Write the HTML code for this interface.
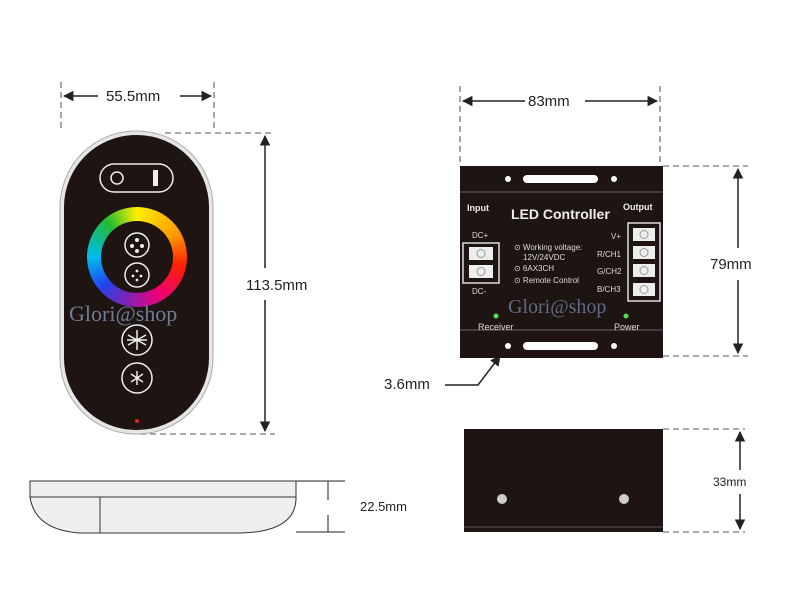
<!DOCTYPE html>
<html><head><style>
body{margin:0;width:800px;height:615px;background:#fff;position:relative;overflow:hidden;font-family:"Liberation Sans",sans-serif}
svg{position:absolute;left:0;top:0}
.ring{position:absolute;left:87px;top:207px;width:100px;height:100px;border-radius:50%;background:conic-gradient(from 0deg,#ffee00,#ff9900 60deg,#ff2200 100deg,#ee0077 150deg,#8a1fb0 190deg,#2244ee 230deg,#00bbee 270deg,#22bb33 320deg,#ffee00)}
.ring:after{content:"";position:absolute;left:14px;top:14px;width:72px;height:72px;border-radius:50%;background:#1e1412}
</style></head><body>
<svg width="800" height="615" viewBox="0 0 800 615" font-family="Liberation Sans, sans-serif">
<defs><marker id="a" viewBox="0 0 10 10" refX="9" refY="5" markerWidth="7" markerHeight="7" orient="auto-start-reverse"><path d="M0,0L10,5L0,10z" fill="#222"/></marker></defs>
<g stroke="#777" stroke-width="1.3" stroke-dasharray="6,4" fill="none">
<path d="M61,82V130M214,82V130M165,133H275M140,434H275M460,86V166M660,86V166M663,166H748M663,356H748M663,429H745M663,532H745"/>
</g>
<g stroke="#222" stroke-width="1.5" fill="none">
<path d="M64,96H98M180,96H211" marker-start="url(#a)" marker-end="url(#a)"/>
<path d="M265,136V268M265,300V431" marker-start="url(#a)" marker-end="url(#a)"/>
<path d="M463,101H525M585,101H657" marker-start="url(#a)" marker-end="url(#a)"/>
<path d="M738,169V248M738,280V353" marker-start="url(#a)" marker-end="url(#a)"/>
<path d="M740,432V470M740,494V529" marker-start="url(#a)" marker-end="url(#a)"/>
<path d="M445,385H478L500,356" marker-end="url(#a)"/>
<path d="M296,481H345M296,532H345M328,481V500M328,515V532" stroke-width="1"/>
</g>
<g font-size="15" fill="#222">
<text x="106" y="101">55.5mm</text>
<text x="246" y="290">113.5mm</text>
<text x="528" y="106">83mm</text>
<text x="710" y="269">79mm</text>
<text x="384" y="389">3.6mm</text>
<text x="360" y="511" font-size="13">22.5mm</text>
<text x="713" y="486" font-size="12">33mm</text>
</g>
<rect x="60" y="131" width="153" height="303" rx="76" fill="#e6e6e6" stroke="#aaa"/>
<rect x="64" y="135" width="145" height="295" rx="72" fill="#1e1412"/>
<rect x="100" y="164" width="73" height="28" rx="14" fill="none" stroke="#eee" stroke-width="1.5"/>
<circle cx="117" cy="178" r="6" fill="none" stroke="#eee" stroke-width="1.5"/>
<rect x="153" y="170" width="5" height="16" fill="#eee"/>
<circle cx="137" cy="421" r="2" fill="#d22"/>
<path d="M30,481H296V497H30Z" fill="#eee" stroke="#333"/>
<path d="M30,497H296V500Q294,532 240,533H80Q35,530 30,497Z" fill="#eee" stroke="#333"/>
<path d="M100,497V533" stroke="#333"/>
<rect x="460" y="166" width="203" height="192" fill="#1e1412"/>
<path d="M460,192H663M460,330H663" stroke="#666"/>
<rect x="523" y="175" width="75" height="8" rx="4" fill="#fff"/>
<circle cx="508" cy="179" r="3" fill="#fff"/><circle cx="614" cy="179" r="3" fill="#fff"/>
<rect x="523" y="342" width="75" height="8" rx="4" fill="#fff"/>
<circle cx="508" cy="346" r="3" fill="#fff"/><circle cx="614" cy="346" r="3" fill="#fff"/>
<rect x="463" y="243" width="36" height="40" fill="none" stroke="#ddd" stroke-width="1.5"/>
<rect x="469" y="247" width="24" height="13" fill="#eee"/><rect x="469" y="265" width="24" height="13" fill="#eee"/>
<rect x="628" y="223" width="32" height="78" fill="none" stroke="#ddd" stroke-width="1.5"/>
<rect x="633" y="228" width="22" height="13" fill="#eee"/><rect x="633" y="246" width="22" height="13" fill="#eee"/>
<rect x="633" y="264" width="22" height="13" fill="#eee"/><rect x="633" y="283" width="22" height="13" fill="#eee"/>
<g fill="none" stroke="#999" stroke-width="1">
<circle cx="481" cy="253.5" r="4"/><circle cx="481" cy="271.5" r="4"/>
<circle cx="644" cy="234.5" r="4"/><circle cx="644" cy="252.5" r="4"/><circle cx="644" cy="270.5" r="4"/><circle cx="644" cy="289.5" r="4"/>
</g>
<g fill="#eee" font-weight="bold">
<text x="467" y="211" font-size="9">Input</text>
<text x="623" y="210" font-size="9">Output</text>
<text x="511" y="219" font-size="14">LED Controller</text>
</g>
<g fill="#ddd" font-size="8">
<text x="472" y="238">DC+</text><text x="472" y="294">DC-</text>
<text x="611" y="239">V+</text><text x="597" y="257">R/CH1</text><text x="597" y="274">G/CH2</text><text x="597" y="292">B/CH3</text>
<text x="514" y="250">⊙ Working voltage:</text><text x="523" y="260">12V/24VDC</text>
<text x="514" y="271">⊙ 6AX3CH</text><text x="514" y="283">⊙ Remote Control</text>
<text x="478" y="330" font-size="9">Receiver</text><text x="614" y="330" font-size="9">Power</text>
</g>
<circle cx="496" cy="316" r="2.5" fill="#5d5"/><circle cx="626" cy="316" r="2.5" fill="#5d5"/>
<text x="508" y="313" font-family="Liberation Serif,serif" font-size="20" fill="#6a7a9a" opacity=".85">Glori@shop</text>
<rect x="464" y="429" width="199" height="103" fill="#1e1412"/>
<path d="M464,527H663" stroke="#555"/>
<circle cx="502" cy="499" r="5" fill="#ccc"/><circle cx="624" cy="499" r="5" fill="#ccc"/>
</svg>
<div class="ring"></div>
<svg width="800" height="615" viewBox="0 0 800 615">
<g stroke="#eee" stroke-width="1.5" fill="none">
<circle cx="137" cy="245" r="12"/><circle cx="137" cy="275" r="12"/>
<circle cx="137" cy="340" r="15"/><circle cx="137" cy="378" r="15"/>
<path d="M137,330V350M128,335L146,345M128,345L146,335M127,340H147" />
<path d="M137,371V385M131,374L143,382M131,382L143,374"/>
</g>
<g fill="#eee"><circle cx="137" cy="240" r="2"/><circle cx="132" cy="246" r="2"/><circle cx="142" cy="246" r="2"/><circle cx="137" cy="251" r="2"/>
<circle cx="137" cy="271" r="1.4"/><circle cx="133" cy="276" r="1.4"/><circle cx="141" cy="276" r="1.4"/><circle cx="137" cy="280" r="1.4"/></g>
<text x="69" y="321" font-family="Liberation Serif,serif" font-size="22" fill="#7f8fae" opacity=".85">Glori@shop</text>
</svg>
</body></html>
